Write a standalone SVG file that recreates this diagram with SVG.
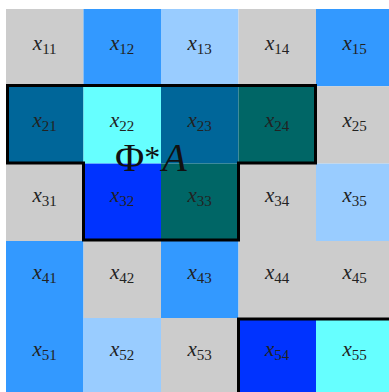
<svg xmlns="http://www.w3.org/2000/svg" width="389" height="392" viewBox="0 0 389 392">
<style>
.c{stroke:none}
.g{fill:#cccccc}.b{fill:#3399ff}.lb{fill:#99ccff}.dt{fill:#006699}.cy{fill:#66ffff}.tl{fill:#006666}.rb{fill:#0033ff}
.t{font-family:"Liberation Serif","Times New Roman",serif;font-size:21px;fill:#222;text-anchor:middle}
.t .v{font-style:italic}
.t .s{font-size:15px}
.o{fill:none;stroke:#000;stroke-width:3;stroke-linejoin:miter}
.phi{font-family:"Liberation Serif","Times New Roman",serif;font-size:40px;fill:#111}
</style>
<rect width="389" height="392" fill="#fff"/>
<g id="cells">
<g id="x11"><rect class="c g" x="6" y="9" width="77.5" height="77.3"/><text class="t" x="44.7" y="50"><tspan class="v">x</tspan><tspan class="s" dy="4">11</tspan></text></g>
<g id="x12"><rect class="c b" x="83.5" y="9" width="77.5" height="77.3"/><text class="t" x="122.2" y="50"><tspan class="v">x</tspan><tspan class="s" dy="4">12</tspan></text></g>
<g id="x13"><rect class="c lb" x="161" y="9" width="77.5" height="77.3"/><text class="t" x="199.7" y="50"><tspan class="v">x</tspan><tspan class="s" dy="4">13</tspan></text></g>
<g id="x14"><rect class="c g" x="238.5" y="9" width="77.5" height="77.3"/><text class="t" x="277.2" y="50"><tspan class="v">x</tspan><tspan class="s" dy="4">14</tspan></text></g>
<g id="x15"><rect class="c b" x="316" y="9" width="73" height="77.3"/><text class="t" x="354.7" y="50"><tspan class="v">x</tspan><tspan class="s" dy="4">15</tspan></text></g>

<g id="x21"><rect class="c dt" x="6" y="86.3" width="77.5" height="77.3"/><text class="t" x="44.7" y="127"><tspan class="v">x</tspan><tspan class="s" dy="4">21</tspan></text></g>
<g id="x22"><rect class="c cy" x="83.5" y="86.3" width="77.5" height="77.3"/><text class="t" x="122.2" y="127"><tspan class="v">x</tspan><tspan class="s" dy="4">22</tspan></text></g>
<g id="x23"><rect class="c dt" x="161" y="86.3" width="77.5" height="77.3"/><text class="t" x="199.7" y="127"><tspan class="v">x</tspan><tspan class="s" dy="4">23</tspan></text></g>
<g id="x24"><rect class="c tl" x="238.5" y="86.3" width="77.5" height="77.3"/><text class="t" x="277.2" y="127"><tspan class="v">x</tspan><tspan class="s" dy="4">24</tspan></text></g>
<g id="x25"><rect class="c g" x="316" y="86.3" width="73" height="77.3"/><text class="t" x="354.7" y="127"><tspan class="v">x</tspan><tspan class="s" dy="4">25</tspan></text></g>

<g id="x31"><rect class="c g" x="6" y="163.6" width="77.5" height="77.4"/><text class="t" x="44.7" y="202"><tspan class="v">x</tspan><tspan class="s" dy="4">31</tspan></text></g>
<g id="x32"><rect class="c rb" x="83.5" y="163.6" width="77.5" height="77.4"/><text class="t" x="122.2" y="202"><tspan class="v">x</tspan><tspan class="s" dy="4">32</tspan></text></g>
<g id="x33"><rect class="c tl" x="161" y="163.6" width="77.5" height="77.4"/><text class="t" x="199.7" y="202"><tspan class="v">x</tspan><tspan class="s" dy="4">33</tspan></text></g>
<g id="x34"><rect class="c g" x="238.5" y="163.6" width="77.5" height="77.4"/><text class="t" x="277.2" y="202"><tspan class="v">x</tspan><tspan class="s" dy="4">34</tspan></text></g>
<g id="x35"><rect class="c lb" x="316" y="163.6" width="73" height="77.4"/><text class="t" x="354.7" y="202"><tspan class="v">x</tspan><tspan class="s" dy="4">35</tspan></text></g>

<g id="x41"><rect class="c b" x="6" y="241" width="77.5" height="77"/><text class="t" x="44.7" y="279"><tspan class="v">x</tspan><tspan class="s" dy="4">41</tspan></text></g>
<g id="x42"><rect class="c g" x="83.5" y="241" width="77.5" height="77"/><text class="t" x="122.2" y="279"><tspan class="v">x</tspan><tspan class="s" dy="4">42</tspan></text></g>
<g id="x43"><rect class="c b" x="161" y="241" width="77.5" height="77"/><text class="t" x="199.7" y="279"><tspan class="v">x</tspan><tspan class="s" dy="4">43</tspan></text></g>
<g id="x44"><rect class="c g" x="238.5" y="241" width="77.5" height="77"/><text class="t" x="277.2" y="279"><tspan class="v">x</tspan><tspan class="s" dy="4">44</tspan></text></g>
<g id="x45"><rect class="c g" x="316" y="241" width="73" height="77"/><text class="t" x="354.7" y="279"><tspan class="v">x</tspan><tspan class="s" dy="4">45</tspan></text></g>

<g id="x51"><rect class="c b" x="6" y="318" width="77.5" height="74"/><text class="t" x="44.7" y="356"><tspan class="v">x</tspan><tspan class="s" dy="4">51</tspan></text></g>
<g id="x52"><rect class="c lb" x="83.5" y="318" width="77.5" height="74"/><text class="t" x="122.2" y="356"><tspan class="v">x</tspan><tspan class="s" dy="4">52</tspan></text></g>
<g id="x53"><rect class="c g" x="161" y="318" width="77.5" height="74"/><text class="t" x="199.7" y="356"><tspan class="v">x</tspan><tspan class="s" dy="4">53</tspan></text></g>
<g id="x54"><rect class="c rb" x="238.5" y="318" width="77.5" height="74"/><text class="t" x="277.2" y="356"><tspan class="v">x</tspan><tspan class="s" dy="4">54</tspan></text></g>
<g id="x55"><rect class="c cy" x="316" y="318" width="73" height="74"/><text class="t" x="354.7" y="356"><tspan class="v">x</tspan><tspan class="s" dy="4">55</tspan></text></g>
</g>
<g id="connectors">
<path class="o" d="M7.5,85.5 H315.5 V163 H238.5 V240 H83.5 V163 H7.5 Z"/>
<path class="o" d="M238.5,395 V319 H395"/>
</g>
<g id="label">
<text class="phi" x="115" y="171">Φ<tspan font-size="32" dy="-3">*</tspan><tspan font-style="italic" dx="2" dy="3">A</tspan></text>
</g>
</svg>
